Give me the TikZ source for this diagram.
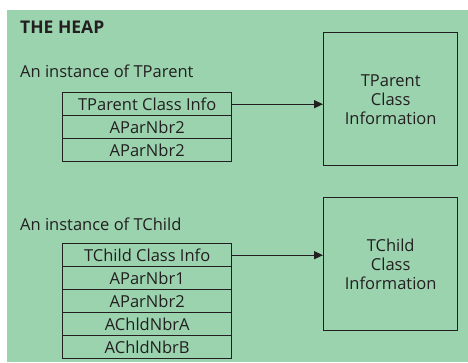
\documentclass[tikz,border=0pt]{standalone}
\usepackage{fontspec}
\setmainfont{Open Sans}
\usetikzlibrary{arrows.meta}
\definecolor{heapgreen}{HTML}{9AD3AE}
\definecolor{ink}{HTML}{231F20}
\tikzset{
  lbl/.style={font=\fontsize{16.5}{19}\selectfont, text=ink, inner sep=0pt, anchor=base west},
  slot/.style={draw=ink, line width=1.4pt, minimum width=169pt, minimum height=23pt, inner sep=0pt,
     font=\fontsize{16.5}{19}\selectfont, text=ink, anchor=north west},
  infobox/.style={draw=ink, line width=1.4pt, minimum width=134pt, minimum height=133pt, inner sep=0pt,
     font=\fontsize{16.5}{19}\selectfont, text=ink, align=center, anchor=north west},
  ptr/.style={draw=ink, line width=1.4pt, -{Triangle[length=9pt,width=8pt]}}
}
\begin{document}
\begin{tikzpicture}[x=1pt,y=-1pt]
\useasboundingbox (0,0) rectangle (468,362);
\fill[white] (0,0) rectangle (468,362);
\fill[heapgreen] (7,10) rectangle (468,362);
\node[lbl, font=\fontsize{17.5}{19}\selectfont\bfseries] (heap) at (20,33) {THE HEAP};
\node[lbl] (instP) at (20,77) {An instance of TParent};
\node[slot] (p1) at (62,92) {TParent Class Info};
\node[slot] (p2) at (62,115) {AParNbr2};
\node[slot] (p3) at (62,138) {AParNbr2};
\node[infobox, minimum height=133pt] (pinfo) at (323,32) {TParent\\Class\\Information};
\draw[ptr] (p1.east) -- (pinfo.west |- p1.east);
\node[lbl] (instC) at (20,230) {An instance of TChild};
\node[slot] (c1) at (62,243) {TChild Class Info};
\node[slot] (c2) at (62,266) {AParNbr1};
\node[slot] (c3) at (62,289) {AParNbr2};
\node[slot] (c4) at (62,312) {AChldNbrA};
\node[slot] (c5) at (62,335) {AChldNbrB};
\node[infobox] (cinfo) at (323,197) {TChild\\Class\\Information};
\draw[ptr] (c1.east) -- (cinfo.west |- c1.east);
\end{tikzpicture}
\end{document}
